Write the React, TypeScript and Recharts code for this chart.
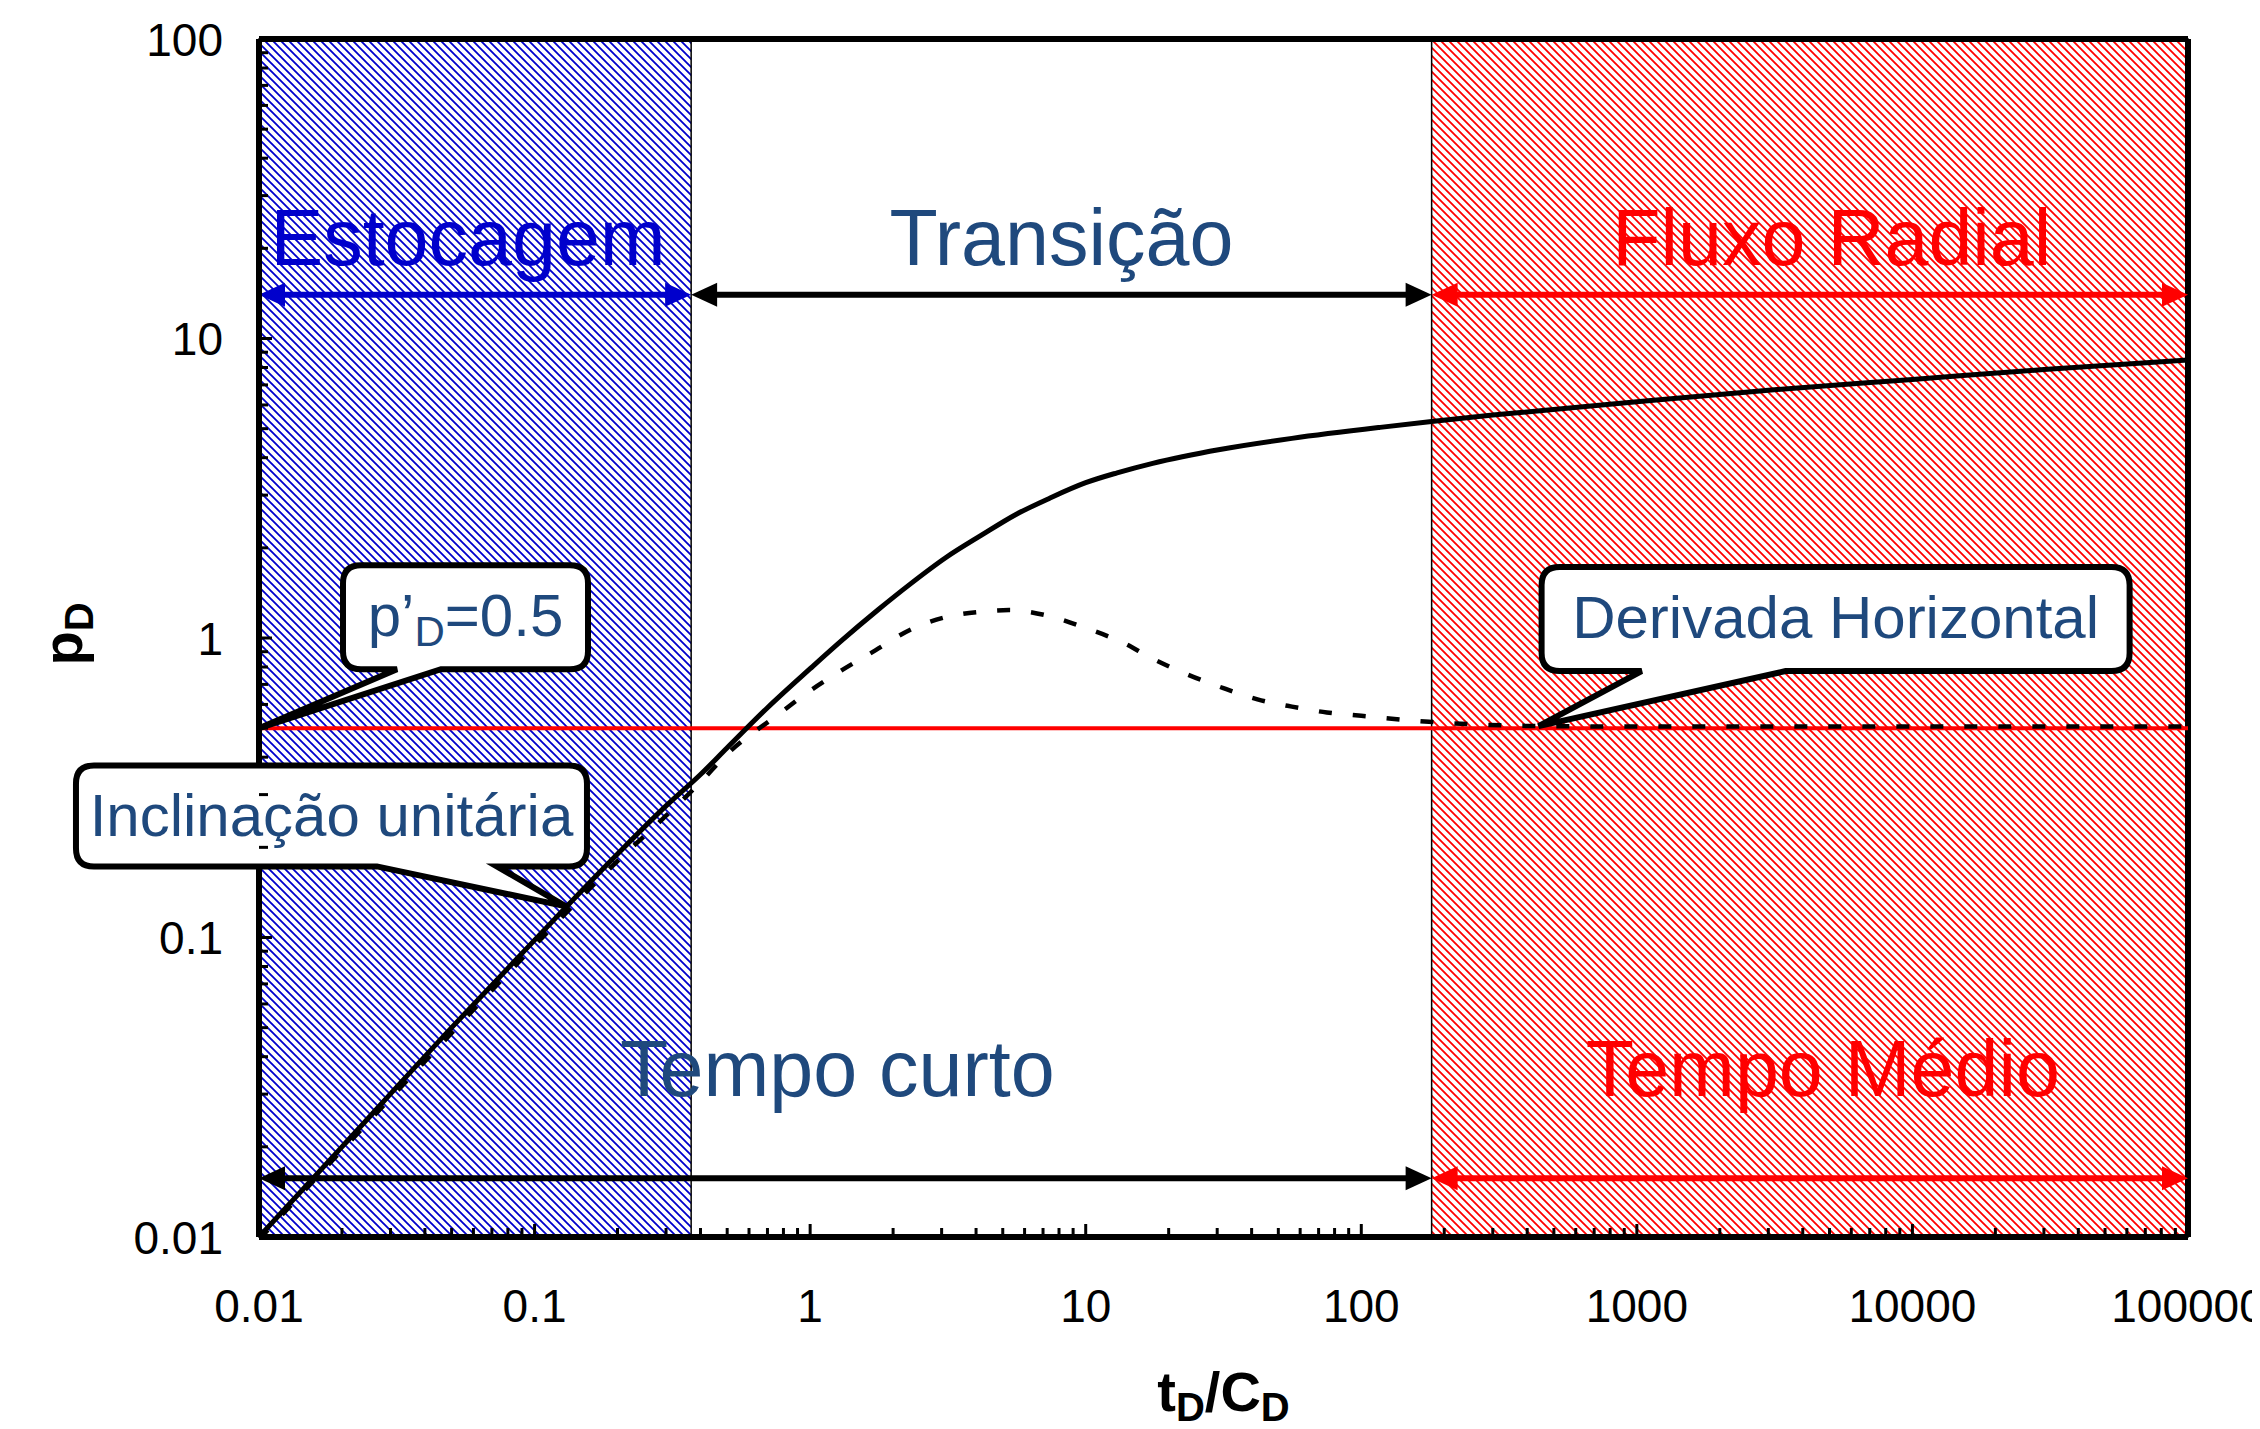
import React from 'react';
import { LineChart, Line, XAxis, YAxis, ReferenceArea, ReferenceLine, ReferenceDot } from 'recharts';

const FONT = "'Liberation Sans', Arial, Helvetica, sans-serif";
const NAVY = '#1F497D';
const BLUE = '#0000CC';
const RED = '#FF0000';

// pD curve (solid)
const timeSolid = [0.01, 0.02, 0.05, 0.1, 0.2, 0.3, 0.4, 0.5, 0.7, 1, 1.3, 1.76, 2.3, 3.12, 4.17, 5.56, 7.4, 10, 13, 17.5, 30.7, 56, 117, 180, 300, 1000, 3000, 10000, 30000, 100000];
const pdValues = [0.01, 0.02, 0.05, 0.098, 0.19, 0.275, 0.35, 0.43, 0.585, 0.79, 0.98, 1.24, 1.51, 1.86, 2.2, 2.58, 2.93, 3.3, 3.56, 3.83, 4.26, 4.64, 5.05, 5.28, 5.55, 6.15, 6.72, 7.3, 7.88, 8.47];

// derivative curve (dashed)
const timeDeriv = [0.01, 0.02, 0.05, 0.1, 0.2, 0.3, 0.4, 0.5, 0.78, 0.97, 1.25, 1.73, 2.3, 3.17, 4.2, 5.27, 7.2, 10, 13.8, 17.2, 23.7, 31.6, 42, 56, 75, 100, 176, 440, 1000, 10000, 100000];
const derivValues = [0.0098, 0.0195, 0.048, 0.094, 0.18, 0.255, 0.33, 0.41, 0.562, 0.654, 0.762, 0.911, 1.064, 1.18, 1.225, 1.24, 1.19, 1.08, 0.96, 0.86, 0.752, 0.68, 0.624, 0.59, 0.564, 0.55, 0.525, 0.508, 0.506, 0.506, 0.506];

// regions
const storageEnd = 0.37;
const radialStart = 180;
const xMin = 0.01;
const xMax = 100000;
const yMin = 0.01;
const yMax = 100;
const horizontalDeriv = 0.5;
const upperArrowY = 14;
const lowerArrowY = 0.0157;

// ticks
const xMajorTicks = [0.01, 0.1, 1, 10, 100, 1000, 10000, 100000];
const xTickLabels = ['0.01', '0.1', '1', '10', '100', '1000', '10000', '100000'];
const yMajorTicks = [0.01, 0.1, 1, 10, 100];
const yTickLabels = ['0.01', '0.1', '1', '10', '100'];
const minorSteps = [2, 3, 4, 5, 6, 7, 8, 9];

const withMinors = (majors: number[]) => {
  const out: number[] = [];
  majors.forEach((m, i) => {
    out.push(m);
    if (i < majors.length - 1) minorSteps.forEach((k) => out.push(m * k));
  });
  return out;
};
const xTicks = withMinors(xMajorTicks);
const yTicks = withMinors(yMajorTicks);

const solidData = timeSolid.map((t, i) => ({ t, p: pdValues[i] }));
const derivData = timeDeriv.map((t, i) => ({ t, p: derivValues[i] }));

const arrows = [
  { x1: xMin, x2: storageEnd, y: upperArrowY, color: BLUE, label: 'Estocagem', labelColor: BLUE, dx: -7, dy: -30 },
  { x1: storageEnd, x2: radialStart, y: upperArrowY, color: '#000', label: 'Transição', labelColor: NAVY, dx: 0, dy: -30 },
  { x1: radialStart, x2: xMax, y: upperArrowY, color: RED, label: 'Fluxo Radial', labelColor: RED, dx: 22, dy: -30 },
  { x1: xMin, x2: radialStart, y: lowerArrowY, color: '#000', label: 'Tempo curto', labelColor: NAVY, dx: -8, dy: -82 },
  { x1: radialStart, x2: xMax, y: lowerArrowY, color: RED, label: 'Tempo Médio', labelColor: RED, dx: 13, dy: -82 },
];

const callouts = [
  { x: 0.01, y: horizontalDeriv, box: [84, 329, -163, -59], tail: [138, 182], kind: 'pd' },
  { x: 0.13, y: 0.127, box: [-490, 21, -141, -40], tail: [-189, -69], text: 'Inclinação unitária' },
  { x: 440, y: 0.508, box: [3, 591, -159, -55], tail: [103, 247], text: 'Derivada Horizontal' },
];

const majorIndex = (majors: number[], v: number) => majors.findIndex((m) => Math.abs(m - v) / m < 1e-6);

function XTick(props: any) {
  const { x, y, payload } = props;
  const idx = majorIndex(xMajorTicks, payload.value);
  const len = idx >= 0 ? 13 : 9;
  return (
    <g>
      <line x1={x} y1={y} x2={x} y2={y - len} stroke="#000" strokeWidth={3} />
      {idx >= 0 && (
        <text x={x} y={y + 85} textAnchor="middle" fontSize={46} fontFamily={FONT} fill="#000">
          {xTickLabels[idx]}
        </text>
      )}
    </g>
  );
}

function YTick(props: any) {
  const { x, y, payload } = props;
  const idx = majorIndex(yMajorTicks, payload.value);
  const len = idx >= 0 ? 13 : 9;
  return (
    <g>
      <line x1={x} y1={y} x2={x + len} y2={y} stroke="#000" strokeWidth={3} />
      {idx >= 0 && (
        <text x={x - 36} y={y} dy="0.36em" textAnchor="end" fontSize={46} fontFamily={FONT} fill="#000">
          {yTickLabels[idx]}
        </text>
      )}
    </g>
  );
}

function XTitle(props: any) {
  const vb = props.viewBox || { x: 251, y: 1229, width: 1929 };
  return (
    <text x={vb.x + vb.width / 2} y={vb.y + 174} textAnchor="middle" fontSize={56} fontWeight="bold" fontFamily={FONT} fill="#000">
      t<tspan dy={10} fontSize={40}>D</tspan>
      <tspan dy={-10}>/C</tspan>
      <tspan dy={10} fontSize={40}>D</tspan>
    </text>
  );
}

function YTitle(props: any) {
  const vb = props.viewBox || { x: 101, y: 31, height: 1198 };
  const cx = vb.x - 27;
  const cy = vb.y + vb.height / 2 - 4;
  return (
    <text x={cx} y={cy} transform={`rotate(-90, ${cx}, ${cy})`} textAnchor="middle" fontSize={56} fontWeight="bold" fontFamily={FONT} fill="#000">
      p<tspan dy={11} fontSize={40}>D</tspan>
    </text>
  );
}

function makeArrow(a: (typeof arrows)[number]) {
  return (props: any) => {
    const { x1, y1, x2 } = props;
    const y = y1;
    const head = 26;
    const half = 12;
    return (
      <g>
        <line x1={x1 + head - 4} y1={y} x2={x2 - head + 4} y2={y} stroke={a.color} strokeWidth={6} />
        <polygon points={`${x1},${y} ${x1 + head},${y - half} ${x1 + head},${y + half}`} fill={a.color} />
        <polygon points={`${x2},${y} ${x2 - head},${y - half} ${x2 - head},${y + half}`} fill={a.color} />
        <text x={(x1 + x2) / 2 + a.dx} y={y + a.dy} textAnchor="middle" fontSize={79} fontFamily={FONT} fill={a.labelColor}>
          {a.label}
        </text>
      </g>
    );
  };
}

function makeCallout(c: (typeof callouts)[number]) {
  return (props: any) => {
    const { cx, cy } = props;
    const x0 = cx + c.box[0];
    const x1 = cx + c.box[1];
    const y0 = cy + c.box[2];
    const y1 = cy + c.box[3];
    const b0 = cx + c.tail[0];
    const b1 = cx + c.tail[1];
    const r = 18;
    const d = `M${x0 + r},${y0} H${x1 - r} Q${x1},${y0} ${x1},${y0 + r} V${y1 - r} Q${x1},${y1} ${x1 - r},${y1} H${b1} L${cx},${cy} L${b0},${y1} H${x0 + r} Q${x0},${y1} ${x0},${y1 - r} V${y0 + r} Q${x0},${y0} ${x0 + r},${y0} Z`;
    const tx = (x0 + x1) / 2;
    const ty = y0 + 71;
    return (
      <g>
        <path d={d} fill="#fff" stroke="#000" strokeWidth={6} strokeLinejoin="miter" />
        {c.kind === 'pd' ? (
          <text x={tx} y={ty} textAnchor="middle" fontSize={60} fontFamily={FONT} fill={NAVY}>
            p’<tspan dy={10} fontSize={42}>D</tspan>
            <tspan dy={-10}>=0.5</tspan>
          </text>
        ) : (
          <text x={tx} y={ty} textAnchor="middle" fontSize={60} fontFamily={FONT} fill={NAVY}>
            {c.text}
          </text>
        )}
      </g>
    );
  };
}

export default function App() {
  return (
    <div style={{ width: 2244, height: 1413, fontFamily: FONT }}>
      <style>{'html,body{overflow:hidden}.recharts-wrapper{overflow:visible !important}.recharts-surface{overflow:visible !important}'}</style>
      <LineChart width={2244} height={1413} margin={{ top: 31, right: 64, bottom: 84, left: 101 }}>
        <defs>
          <pattern id="hatchBlue" patternUnits="userSpaceOnUse" width="8" height="8">
            <rect width="8" height="8" fill="#fff" />
            <path d="M-2,-2 L10,10 M-2,6 L2,10 M6,-2 L10,2" stroke={BLUE} strokeWidth={1.8} />
          </pattern>
          <pattern id="hatchRed" patternUnits="userSpaceOnUse" width="8" height="8">
            <rect width="8" height="8" fill="#fff" />
            <path d="M-2,-2 L10,10 M-2,6 L2,10 M6,-2 L10,2" stroke={RED} strokeWidth={1.8} />
          </pattern>
        </defs>
        <XAxis
          dataKey="t"
          type="number"
          scale="log"
          domain={[xMin, xMax]}
          allowDataOverflow
          ticks={xTicks}
          interval={0}
          tick={<XTick />}
          tickLine={false}
          tickSize={0}
          tickMargin={0}
          axisLine={{ stroke: '#000', strokeWidth: 6 }}
          height={100}
          label={<XTitle />}
        />
        <YAxis
          type="number"
          scale="log"
          domain={[yMin, yMax]}
          allowDataOverflow
          ticks={yTicks}
          interval={0}
          tick={<YTick />}
          tickLine={false}
          tickSize={0}
          tickMargin={0}
          axisLine={{ stroke: '#000', strokeWidth: 6 }}
          width={150}
          label={<YTitle />}
        />
        <ReferenceArea x1={xMin} x2={storageEnd} y1={yMin} y2={yMax} fill="url(#hatchBlue)" fillOpacity={1} stroke="#000" strokeWidth={1.5} ifOverflow="visible" />
        <ReferenceArea x1={radialStart} x2={xMax} y1={yMin} y2={yMax} fill="url(#hatchRed)" fillOpacity={1} stroke="#000" strokeWidth={1.5} ifOverflow="visible" />
        <ReferenceLine y={yMax} stroke="#000" strokeWidth={6} ifOverflow="visible" />
        <ReferenceLine x={xMax} stroke="#000" strokeWidth={6} ifOverflow="visible" />
        <ReferenceLine y={horizontalDeriv} stroke={RED} strokeWidth={4} ifOverflow="visible" />
        <Line data={solidData} dataKey="p" type="monotone" stroke="#000" strokeWidth={5} dot={false} isAnimationActive={false} />
        <Line data={derivData} dataKey="p" type="monotone" stroke="#000" strokeWidth={4.5} strokeDasharray="13 21" dot={false} isAnimationActive={false} />
        {arrows.map((a, i) => (
          <ReferenceLine
            key={`arrow-${i}`}
            segment={[{ x: a.x1, y: a.y }, { x: a.x2, y: a.y }]}
            ifOverflow="visible"
            shape={makeArrow(a)}
          />
        ))}
        {callouts.map((c, i) => (
          <ReferenceDot key={`callout-${i}`} x={c.x} y={c.y} r={1} ifOverflow="visible" shape={makeCallout(c)} />
        ))}
      </LineChart>
    </div>
  );
}
